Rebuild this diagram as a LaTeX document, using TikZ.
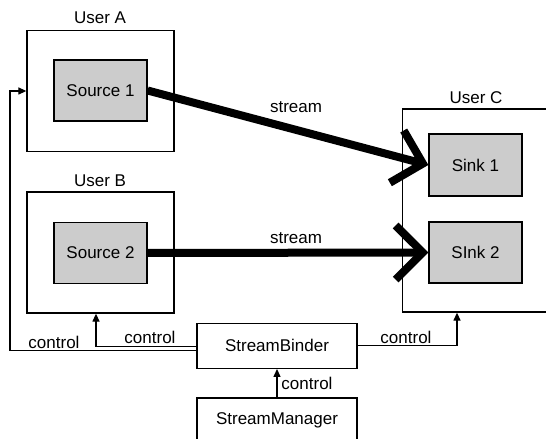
\documentclass[tikz,border=0pt]{standalone}
\usepackage{fontspec}
\setmainfont{Liberation Sans}
\usetikzlibrary{arrows.meta,calc}
\definecolor{boxgray}{RGB}{204,204,204}
\begin{document}
\begin{tikzpicture}[x=1bp,y=-1bp,
 every node/.style={font=\fontsize{17bp}{20bp}\selectfont, inner sep=0pt},
 userbox/.style={draw, line width=1.3bp, minimum width=147bp, minimum height=121bp},
 compbox/.style={draw, fill=boxgray, line width=1.3bp, minimum width=93bp, minimum height=61bp},
 ctrlbox/.style={draw, fill=white, line width=1.3bp, minimum width=160bp, minimum height=45bp},
 streamline/.style={line width=8bp, -{Straight Barb[length=27bp,width=54bp]}},
 ctl/.style={line width=1.3bp, -{Triangle[length=8bp,width=7bp]}}
]
\useasboundingbox (0,0) rectangle (546,439);
\node[userbox] (ua) at (100.5,91) {};
\node[compbox] (s1) at (100.5,90.5) {Source 1};
\node (la) at (100,18) {User A};
\node[userbox] (ub) at (100.5,252.5) {};
\node[compbox] (s2) at (100.5,253) {Source 2};
\node (lb) at (100,181) {User B};
\node[userbox, minimum height=203bp] (uc) at (476,210.5) {};
\node[compbox, minimum height=62bp] (k1) at (475.5,165) {Sink 1};
\node[compbox] (k2) at (475.5,252.5) {SInk 2};
\node (lc) at (476,98) {User C};
\node[ctrlbox] (sb) at (277,345.8) {StreamBinder};
\node[ctrlbox] (sm) at (277,420.5) {StreamManager};
\draw[streamline] (s1.east) -- (k1.west);
\draw[streamline] (s2.east) -- (k2.west);
\node (st1) at (296,107) {stream};
\node (st2) at (296,238) {stream};
\coordinate (cl) at (10,91);
\draw[ctl] ([yshift=-5bp]sb.west) -| (cl) -- (ua.west);
\draw[ctl] ([yshift=-1bp]sb.west) -| ([xshift=-4.5bp]ub.south);
\draw[ctl] (sb.east) -| ([xshift=-19bp]uc.south);
\draw[ctl] (sm.north) -- (sb.south);
\node (c1) at (54,342) {control};
\node (c2) at (150,337) {control};
\node (c3) at (406,337) {control};
\node (c4) at (307,383) {control};
\end{tikzpicture}
\end{document}
